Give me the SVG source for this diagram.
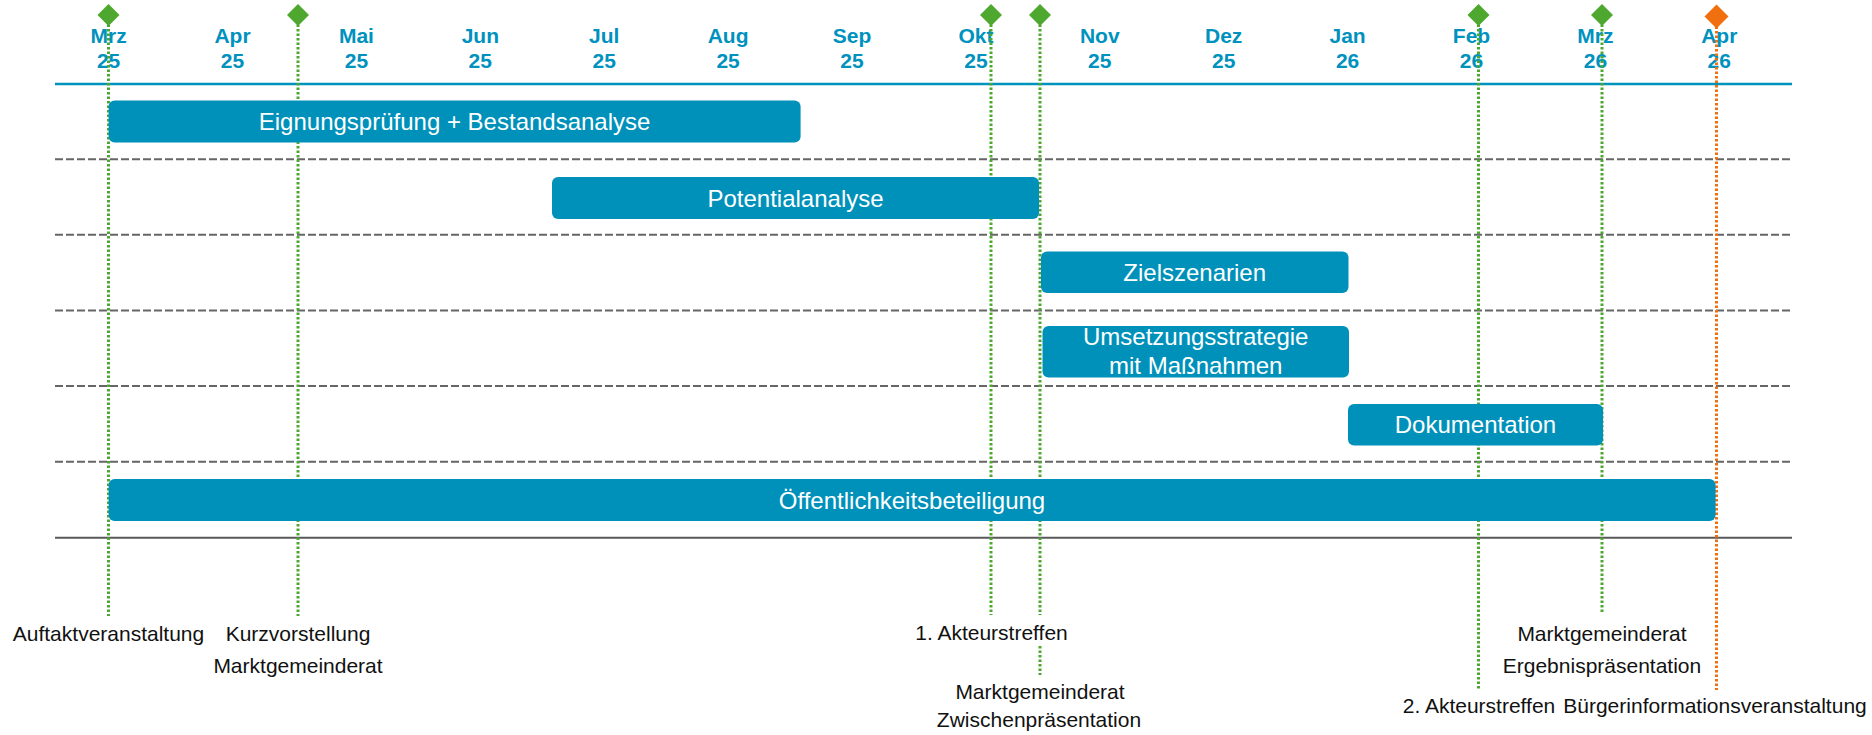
<svg xmlns="http://www.w3.org/2000/svg" width="1872" height="735" viewBox="0 0 1872 735">
<style>
.mon{font-family:"Liberation Sans",Arial,sans-serif;font-weight:bold;font-size:21px;fill:#0092BE;text-anchor:middle}
.bar{fill:#0091BA}
.bt{font-family:"Liberation Sans",Arial,sans-serif;font-size:24px;fill:#FFFFFF;text-anchor:middle}
.lbl{font-family:"Liberation Sans",Arial,sans-serif;font-size:21px;fill:#111111;text-anchor:middle}
.grid{stroke:#666666;stroke-width:2;stroke-dasharray:8 3;fill:none}
.ms{stroke:#4EA72E;stroke-width:3;stroke-dasharray:2.5 2;fill:none}
.mso{stroke:#F07010;stroke-width:3;stroke-dasharray:2.5 2;fill:none}
</style>
<rect width="1872" height="735" fill="#FFFFFF"/>
<g id="axis">
<line x1="55" y1="84" x2="1792" y2="84" stroke="#0093BD" stroke-width="2.5"/>
<line class="grid" x1="55" y1="159.2" x2="1792" y2="159.2"/>
<line class="grid" x1="55" y1="234.8" x2="1792" y2="234.8"/>
<line class="grid" x1="55" y1="310.4" x2="1792" y2="310.4"/>
<line class="grid" x1="55" y1="386" x2="1792" y2="386"/>
<line class="grid" x1="55" y1="461.8" x2="1792" y2="461.8"/>
<line x1="55" y1="537.8" x2="1792" y2="537.8" stroke="#595959" stroke-width="2"/>
</g>
<g id="months">
<text class="mon" x="108.6" y="43">Mrz</text><text class="mon" x="108.6" y="68">25</text>
<text class="mon" x="232.5" y="43">Apr</text><text class="mon" x="232.5" y="68">25</text>
<text class="mon" x="356.4" y="43">Mai</text><text class="mon" x="356.4" y="68">25</text>
<text class="mon" x="480.3" y="43">Jun</text><text class="mon" x="480.3" y="68">25</text>
<text class="mon" x="604.2" y="43">Jul</text><text class="mon" x="604.2" y="68">25</text>
<text class="mon" x="728.1" y="43">Aug</text><text class="mon" x="728.1" y="68">25</text>
<text class="mon" x="852" y="43">Sep</text><text class="mon" x="852" y="68">25</text>
<text class="mon" x="975.9" y="43">Okt</text><text class="mon" x="975.9" y="68">25</text>
<text class="mon" x="1099.8" y="43">Nov</text><text class="mon" x="1099.8" y="68">25</text>
<text class="mon" x="1223.7" y="43">Dez</text><text class="mon" x="1223.7" y="68">25</text>
<text class="mon" x="1347.6" y="43">Jan</text><text class="mon" x="1347.6" y="68">26</text>
<text class="mon" x="1471.5" y="43">Feb</text><text class="mon" x="1471.5" y="68">26</text>
<text class="mon" x="1595.4" y="43">Mrz</text><text class="mon" x="1595.4" y="68">26</text>
<text class="mon" x="1719.3" y="43">Apr</text><text class="mon" x="1719.3" y="68">26</text>
</g>
<g id="connectors">
<line class="ms" x1="108.5" y1="20" x2="108.5" y2="616"/>
<line class="ms" x1="298" y1="20" x2="298" y2="616"/>
<line class="ms" x1="991" y1="20" x2="991" y2="615"/>
<path class="ms" d="M1040 20 V615 M1040 646 V675"/>
<line class="ms" x1="1478.5" y1="20" x2="1478.5" y2="690"/>
<line class="ms" x1="1602" y1="20" x2="1602" y2="613"/>
<line class="mso" x1="1716.5" y1="22" x2="1716.5" y2="690"/>
</g>
<g id="bar-eignung"><rect class="bar" x="108.6" y="100.4" width="692" height="42" rx="6"/><text class="bt" x="454.6" y="130">Eignungsprüfung + Bestandsanalyse</text></g>
<g id="bar-potential"><rect class="bar" x="552" y="177" width="487" height="42" rx="6"/><text class="bt" x="795.5" y="206.6">Potentialanalyse</text></g>
<g id="bar-ziel"><rect class="bar" x="1041" y="251.6" width="307.5" height="41.5" rx="6"/><text class="bt" x="1194.7" y="281">Zielszenarien</text></g>
<g id="bar-umsetzung"><rect class="bar" x="1042.5" y="326" width="306.5" height="51.5" rx="6"/><text class="bt" x="1195.7" y="345">Umsetzungsstrategie</text><text class="bt" x="1195.7" y="374">mit Maßnahmen</text></g>
<g id="bar-doku"><rect class="bar" x="1348" y="404" width="255" height="41.5" rx="6"/><text class="bt" x="1475.5" y="433.3">Dokumentation</text></g>
<g id="bar-oeff"><rect class="bar" x="108.6" y="479" width="1607" height="42" rx="6"/><text class="bt" x="912" y="508.6">Öffentlichkeitsbeteiligung</text></g>
<g id="ms-auftakt"><path d="M108.5 4 L119.5 15 L108.5 26 L97.5 15 Z" fill="#4EA72E"/><text class="lbl" x="108.5" y="641">Auftaktveranstaltung</text></g>
<g id="ms-kurz"><path d="M298 4 L309 15 L298 26 L287 15 Z" fill="#4EA72E"/><text class="lbl" x="298" y="641">Kurzvorstellung</text><text class="lbl" x="298" y="672.7">Marktgemeinderat</text></g>
<g id="ms-akteur1"><path d="M991 4 L1002 15 L991 26 L980 15 Z" fill="#4EA72E"/><text class="lbl" x="991.5" y="640">1. Akteurstreffen</text></g>
<g id="ms-zwischen"><path d="M1040 4 L1051 15 L1040 26 L1029 15 Z" fill="#4EA72E"/><text class="lbl" x="1040" y="699">Marktgemeinderat</text><text class="lbl" x="1039" y="726.7">Zwischenpräsentation</text></g>
<g id="ms-akteur2"><path d="M1478.5 4 L1489.5 15 L1478.5 26 L1467.5 15 Z" fill="#4EA72E"/><text class="lbl" x="1479" y="713">2. Akteurstreffen</text></g>
<g id="ms-ergebnis"><path d="M1602 4 L1613 15 L1602 26 L1591 15 Z" fill="#4EA72E"/><text class="lbl" x="1602" y="641">Marktgemeinderat</text><text class="lbl" x="1602" y="672.7">Ergebnispräsentation</text></g>
<g id="ms-buerger"><path d="M1716.5 4.5 L1728.5 16.5 L1716.5 28.5 L1704.5 16.5 Z" fill="#F07010"/><text class="lbl" x="1715" y="713">Bürgerinformationsveranstaltung</text></g>
</svg>
